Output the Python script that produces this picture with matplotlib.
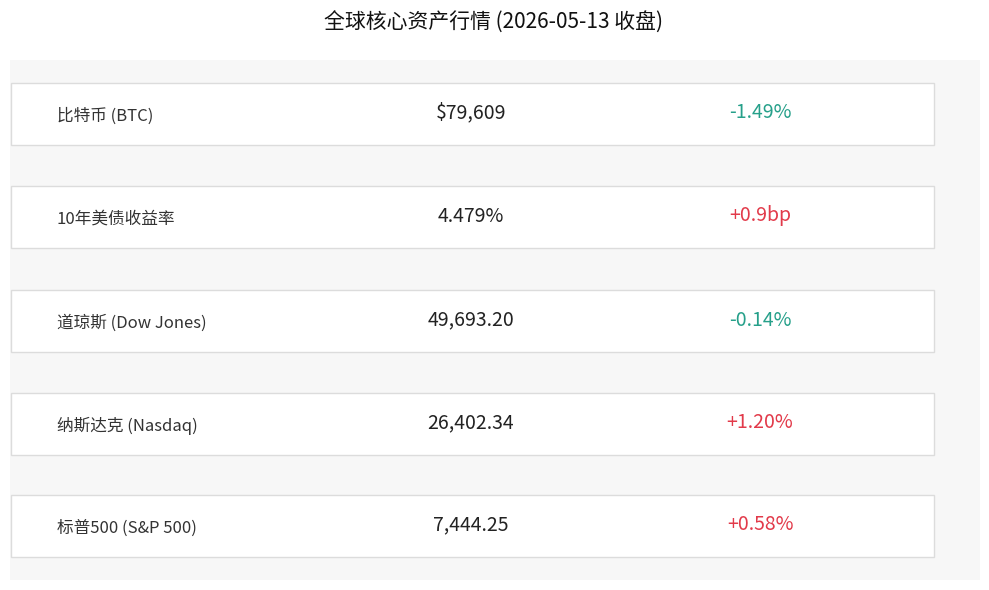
import matplotlib
matplotlib.use("Agg")
import matplotlib.pyplot as plt
from matplotlib.patches import Rectangle

plt.rcParams['font.family'] = ['Noto Sans CJK SC', 'DejaVu Sans']

# 数据
title = "全球核心资产行情 (2026-05-13 收盘)"
names = ["比特币 (BTC)", "10年美债收益率", "道琼斯 (Dow Jones)", "纳斯达克 (Nasdaq)", "标普500 (S&P 500)"]
prices = ["$79,609", "4.479%", "49,693.20", "26,402.34", "7,444.25"]
changes = ["-1.49%", "+0.9bp", "-0.14%", "+1.20%", "+0.58%"]

green = "#26a08a"
red = "#e23a4a"

fig = plt.figure(figsize=(9.89, 5.90), dpi=100)
ax = fig.add_axes([0, 0, 1, 1])
ax.set_xlim(0, 989)
ax.set_ylim(590, 0)
ax.axis("off")

# 背景面板
ax.add_patch(Rectangle((10, 60), 970, 520, facecolor="#f7f7f7", edgecolor="none"))

ax.text(494, 23, title, ha="center", va="center", fontsize=15, color="#111111")

row_top = [83, 186, 290, 393, 495]
row_h = 62
for top, name, price, chg in zip(row_top, names, prices, changes):
    ax.add_patch(Rectangle((11, top), 923, row_h, facecolor="white",
                           edgecolor="#dcdcdc", linewidth=1))
    cy = top + row_h / 2
    ax.text(57, cy + 2, name, ha="left", va="center", fontsize=12, color="#333333")
    ax.text(471, cy - 1, price, ha="center", va="center", fontsize=14, color="#222222")
    col = green if chg.startswith("-") else red
    ax.text(760, cy - 1, chg, ha="center", va="center", fontsize=14, color=col)

fig.savefig("out.png", dpi=100)
